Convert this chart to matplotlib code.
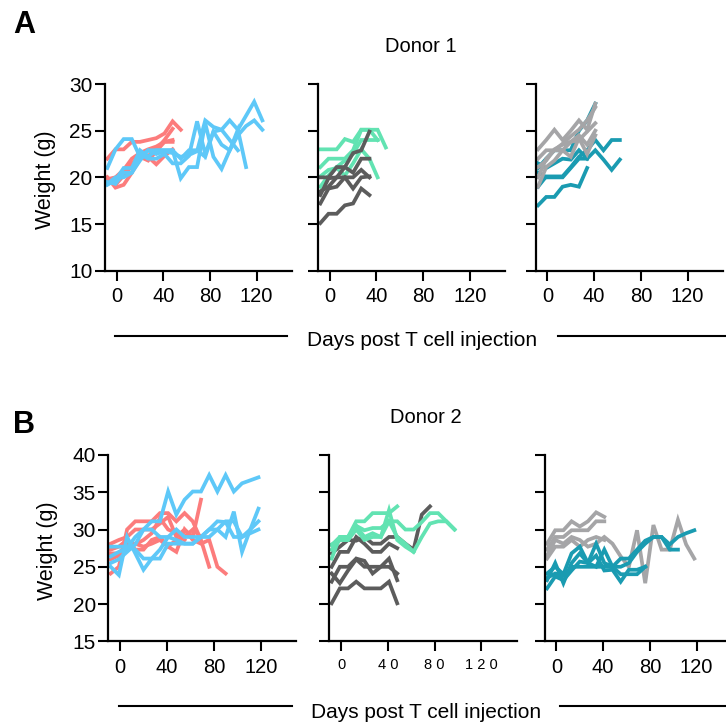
import matplotlib
matplotlib.use('Agg')
import matplotlib.pyplot as plt
from matplotlib.lines import Line2D

plt.rcParams['font.family'] = ['Liberation Sans', 'DejaVu Sans']

# ---------- data (weights in g) ----------
# weekly weighing days, each mouse uses the first len(values) days
days = [-8, -1, 6, 13, 20, 27, 34, 41, 48, 55, 62, 69, 76, 83, 90, 97, 104, 111, 118, 125]
xticks = [0, 40, 80, 120]

# Donor 1, left panel
d1_red = [
    [22.0, 23.0, 23.0, 23.8, 23.8, 24.0, 24.2, 24.7, 26.0, 25.1],
    [20.0, 18.9, 19.2, 20.5, 22.0, 22.3, 23.0, 24.0, 25.2],
    [19.6, 19.6, 20.2, 21.5, 22.2, 21.8, 22.8, 23.8, 23.8],
    [20.0, 19.2, 20.2, 21.2, 22.6, 22.2, 21.4, 22.3, 23.0],
    [19.8, 20.0, 20.8, 22.0, 22.6, 23.0, 23.3, 23.8, 24.0],
]
d1_blue = [
    [21.0, 23.0, 24.1, 24.1, 22.2, 22.9, 22.5, 22.8, 22.6, 22.2, 22.4, 22.8, 26.1, 25.4, 25.1, 26.1, 25.1, 26.6, 28.1, 26.1],
    [19.2, 19.7, 21.0, 21.0, 22.9, 22.2, 22.9, 22.9, 22.9, 19.9, 21.1, 21.1, 25.8, 22.2, 20.9, 22.9, 25.1, 21.1],
    [19.5, 19.3, 20.5, 20.5, 21.8, 22.9, 22.9, 22.9, 22.9, 22.0, 22.9, 22.9, 22.2, 24.9, 23.5, 22.9, 24.5, 25.5, 26.1, 25.1],
    [19.3, 20.0, 20.0, 20.5, 22.5, 22.0, 22.0, 22.5, 21.5, 21.5, 22.3, 26.0, 22.5, 24.9, 25.1, 24.0, 22.9],
]
# Donor 1, middle panel
d1_green = [
    [23.0, 23.0, 23.0, 24.1, 23.8, 25.1, 25.1, 25.1, 23.2],
    [21.1, 22.0, 22.0, 22.0, 22.9, 25.1, 25.1, 24.0],
    [19.0, 20.2, 21.1, 21.8, 22.5, 24.0, 24.0, 24.0],
    [20.1, 20.8, 21.0, 20.2, 21.5, 23.0, 22.0, 20.0],
]
d1_dark = [
    [15.1, 16.1, 16.1, 17.0, 17.2, 18.8, 18.1],
    [17.2, 18.8, 19.0, 20.0, 18.8, 20.0, 20.1],
    [18.1, 19.9, 20.0, 21.1, 22.6, 22.9, 24.9],
    [20.0, 20.0, 21.1, 21.1, 20.5, 22.0, 22.0],
    [18.5, 19.0, 20.0, 20.0, 20.0, 20.8, 20.0],
]
# Donor 1, right panel
d1_teal = [
    [17.0, 17.9, 17.9, 19.0, 19.2, 19.0, 21.0],
    [19.0, 20.1, 20.1, 20.1, 21.1, 22.2, 22.9, 24.0, 22.9, 24.0, 24.0],
    [20.5, 20.0, 20.0, 20.0, 21.0, 22.0, 22.0],
    [21.5, 21.0, 21.5, 22.0, 21.9, 22.9, 22.0, 22.9, 21.9, 20.8, 21.9],
    [21.0, 22.0, 22.9, 22.9, 22.9, 25.0, 26.1, 27.9],
]
d1_grey = [
    [23.0, 24.0, 25.1, 24.0, 25.0, 26.1, 25.1, 27.9],
    [22.0, 22.9, 22.9, 23.6, 24.4, 25.1, 26.1, 27.5],
    [21.1, 21.8, 23.0, 23.5, 23.8, 24.0, 24.9, 25.8],
    [19.0, 21.1, 21.8, 22.9, 23.8, 24.5, 23.5, 25.0],
    [20.0, 22.0, 22.9, 22.9, 22.2, 24.2, 22.5, 24.5],
]

# Donor 2, left panel
d2_red = [
    [24.1, 25.0, 30.0, 31.1, 31.1, 31.1, 32.2, 32.2, 31.1, 32.2, 31.1, 28.6, 25.0],
    [28.1, 28.6, 29.0, 30.0, 30.0, 30.0, 30.8, 31.7, 29.0, 30.0, 29.0, 34.0],
    [26.8, 26.8, 28.1, 28.1, 27.7, 28.1, 28.6, 27.7, 27.0, 30.0, 28.6, 28.1, 28.6, 25.0, 24.1],
    [27.3, 27.7, 28.6, 27.3, 27.3, 28.6, 29.0, 27.7, 28.6, 29.0, 30.0, 29.0],
    [26.0, 26.5, 27.5, 28.0, 28.6, 29.5, 31.5, 30.0, 29.5, 28.6],
]
d2_blue = [
    [25.5, 26.0, 27.0, 28.0, 30.0, 31.1, 31.1, 35.1, 32.0, 34.0, 35.1, 35.1, 37.3, 35.1, 37.3, 35.1, 36.2, 36.6, 37.0],
    [25.0, 23.9, 29.0, 26.8, 24.6, 26.1, 27.3, 29.0, 30.0, 29.0, 29.0, 29.0, 30.0, 30.0, 29.0, 32.4, 27.0, 30.0, 32.8],
    [26.4, 27.0, 27.5, 29.0, 30.0, 30.0, 29.0, 29.0, 28.6, 28.1, 28.1, 29.0, 29.0, 30.0, 31.1, 31.1, 29.0, 30.0, 31.1],
    [27.7, 27.7, 27.7, 27.3, 26.1, 26.1, 26.1, 28.1, 28.1, 28.1, 28.1, 29.0, 30.0, 31.1, 31.0, 29.0, 29.0, 29.5, 30.0],
]
# Donor 2, middle panel
d2_dark = [
    [20.1, 22.1, 22.1, 23.0, 22.1, 22.1, 22.1, 23.0, 20.1],
    [23.0, 25.0, 25.0, 26.1, 25.8, 24.1, 25.0, 26.1, 23.2],
    [24.1, 22.8, 24.5, 26.0, 25.0, 25.0, 25.0, 25.0, 24.1],
    [25.0, 27.0, 27.0, 29.0, 28.1, 27.0, 27.0, 28.1, 27.5],
    [26.8, 27.7, 28.6, 28.5, 29.0, 28.1, 28.1, 29.0, 29.0, 28.1, 27.3, 32.0, 33.1],
]
d2_green = [
    [26.1, 29.0, 29.0, 31.1, 31.1, 32.2, 32.2, 32.2, 33.1],
    [27.3, 28.6, 28.6, 30.5, 29.9, 30.2, 30.2, 31.1, 31.1, 30.0, 30.0, 31.0, 32.2, 32.2, 31.1, 30.0],
    [27.9, 29.0, 29.0, 30.5, 29.0, 29.5, 29.0, 32.6, 28.6, 27.7, 27.0, 29.0, 30.8, 31.1, 31.1, 30.0],
    [28.0, 28.6, 28.6, 30.0, 28.6, 29.0, 29.0, 31.1, 29.0, 28.1, 27.0],
]
# Donor 2, right panel
d2_grey = [
    [28.1, 29.9, 29.9, 31.1, 30.4, 31.1, 32.3, 31.7],
    [27.3, 29.0, 29.0, 29.9, 29.9, 29.9, 31.1, 31.1],
    [26.1, 27.7, 27.7, 28.6, 27.7, 28.6, 29.0, 28.6],
    [26.5, 28.6, 28.1, 29.0, 28.6, 27.7, 28.1, 29.0, 28.1, 26.4, 25.0, 29.9, 22.8, 30.6, 27.3, 27.3, 31.3, 28.0, 26.1],
]
d2_teal = [
    [22.1, 23.7, 23.2, 24.5, 25.7, 25.5, 26.5, 24.5, 24.6, 23.0, 24.6, 24.6, 25.0],
    [23.2, 25.5, 22.8, 25.5, 26.8, 25.5, 28.1, 25.5, 25.0, 25.0, 25.5, 27.0, 28.1, 29.0, 29.0, 27.3, 27.3],
    [24.1, 25.0, 24.0, 26.8, 27.7, 25.5, 25.0, 27.3, 25.0, 26.1, 26.1, 27.3, 28.5, 29.0, 29.0, 28.0, 29.0, 29.5, 29.9],
    [23.5, 24.1, 23.8, 25.0, 25.0, 25.0, 25.0, 25.0, 25.0, 24.0, 24.0, 24.0, 25.0],
]

# colours
RED = '#FC7C7C'
BLUE = '#5EC8F8'
GREEN = '#62E3B2'
DARK = '#5C5C5C'
GREY = '#A5A5A7'
TEAL = '#1A9BB1'


def draw_lines(ax, lines, color):
    for w in lines:
        ax.plot(days[:len(w)], w, color=color, lw=2.7, solid_joinstyle='miter')


def style_axes(ax, ylim, yticks, ylabels=True, small_x=False):
    for s in ['top', 'right']:
        ax.spines[s].set_visible(False)
    for s in ['left', 'bottom']:
        ax.spines[s].set_linewidth(1.6)
    ax.set_xlim(-10, 150)
    ax.set_ylim(*ylim)
    ax.set_yticks(yticks)
    ax.set_xticks(xticks)
    ax.tick_params(length=7, width=1.5, labelsize=14.5)
    ax.tick_params(axis='y', pad=2, labelsize=15)
    ax.tick_params(axis='x', pad=5)
    if not ylabels:
        ax.set_yticklabels([])
    if small_x:
        ax.set_xticklabels(['0', '4 0', '8 0', '1 2 0'], fontsize=10.5)
    ax.patch.set_visible(False)


W, H = 726, 725
fig = plt.figure(figsize=(W / 100, H / 100), dpi=100)


def add_ax(x0, x1, ytop, ybot):
    return fig.add_axes([x0 / W, 1 - ybot / H, (x1 - x0) / W, (ybot - ytop) / H])


# ---------- A: Donor 1 ----------
a1 = add_ax(105, 291.5, 84, 270.7)
draw_lines(a1, d1_red, RED)
draw_lines(a1, d1_blue, BLUE)
style_axes(a1, (10, 30), [10, 15, 20, 25, 30])

a2 = add_ax(318, 505, 84, 270.7)
draw_lines(a2, d1_green, GREEN)
draw_lines(a2, d1_dark, DARK)
style_axes(a2, (10, 30), [10, 15, 20, 25, 30], ylabels=False)

a3 = add_ax(535.7, 722.7, 84, 270.7)
draw_lines(a3, d1_teal, TEAL)
draw_lines(a3, d1_grey, GREY)
style_axes(a3, (10, 30), [10, 15, 20, 25, 30], ylabels=False)

# ---------- B: Donor 2 ----------
b1 = add_ax(108.3, 296, 455, 641.3)
draw_lines(b1, d2_red, RED)
draw_lines(b1, d2_blue, BLUE)
style_axes(b1, (15, 40), [15, 20, 25, 30, 35, 40])

b2 = add_ax(329.3, 516.6, 455, 641.3)
draw_lines(b2, d2_dark, DARK)
draw_lines(b2, d2_green, GREEN)
style_axes(b2, (15, 40), [15, 20, 25, 30, 35, 40], ylabels=False, small_x=True)

b3 = add_ax(544.7, 731.7, 455, 641.3)
draw_lines(b3, d2_grey, GREY)
draw_lines(b3, d2_teal, TEAL)
style_axes(b3, (15, 40), [15, 20, 25, 30, 35, 40], ylabels=False)

# ---------- labels ----------
fig.text(13 / W, 1 - 33 / H, 'A', fontsize=22, fontweight='bold', va='baseline')
fig.text(13 / W, 1 - 433 / H, 'B', fontsize=22, fontweight='bold', va='baseline')
fig.text(421 / W, 1 - 47 / H, 'Donor 1', fontsize=14.5, ha='center', va='center')
fig.text(426 / W, 1 - 418 / H, 'Donor 2', fontsize=14.5, ha='center', va='center')
fig.text(45 / W, 1 - 180 / H, 'Weight (g)', fontsize=15.5, rotation=90, ha='center', va='center')
fig.text(48 / W, 1 - 551 / H, 'Weight (g)', fontsize=15.5, rotation=90, ha='center', va='center')

fig.text(422 / W, 1 - 341 / H, 'Days post T cell injection', fontsize=15, ha='center', va='center')
fig.text(426 / W, 1 - 712 / H, 'Days post T cell injection', fontsize=15, ha='center', va='center')
for y, segs in [(336, [(115, 287), (558, 726)]), (706, [(119, 291.5), (560, 726)])]:
    for x0, x1 in segs:
        fig.add_artist(Line2D([x0 / W, x1 / W], [1 - y / H, 1 - y / H],
                              transform=fig.transFigure, color='black', lw=1.5))

fig.savefig('out.png', dpi=100)
